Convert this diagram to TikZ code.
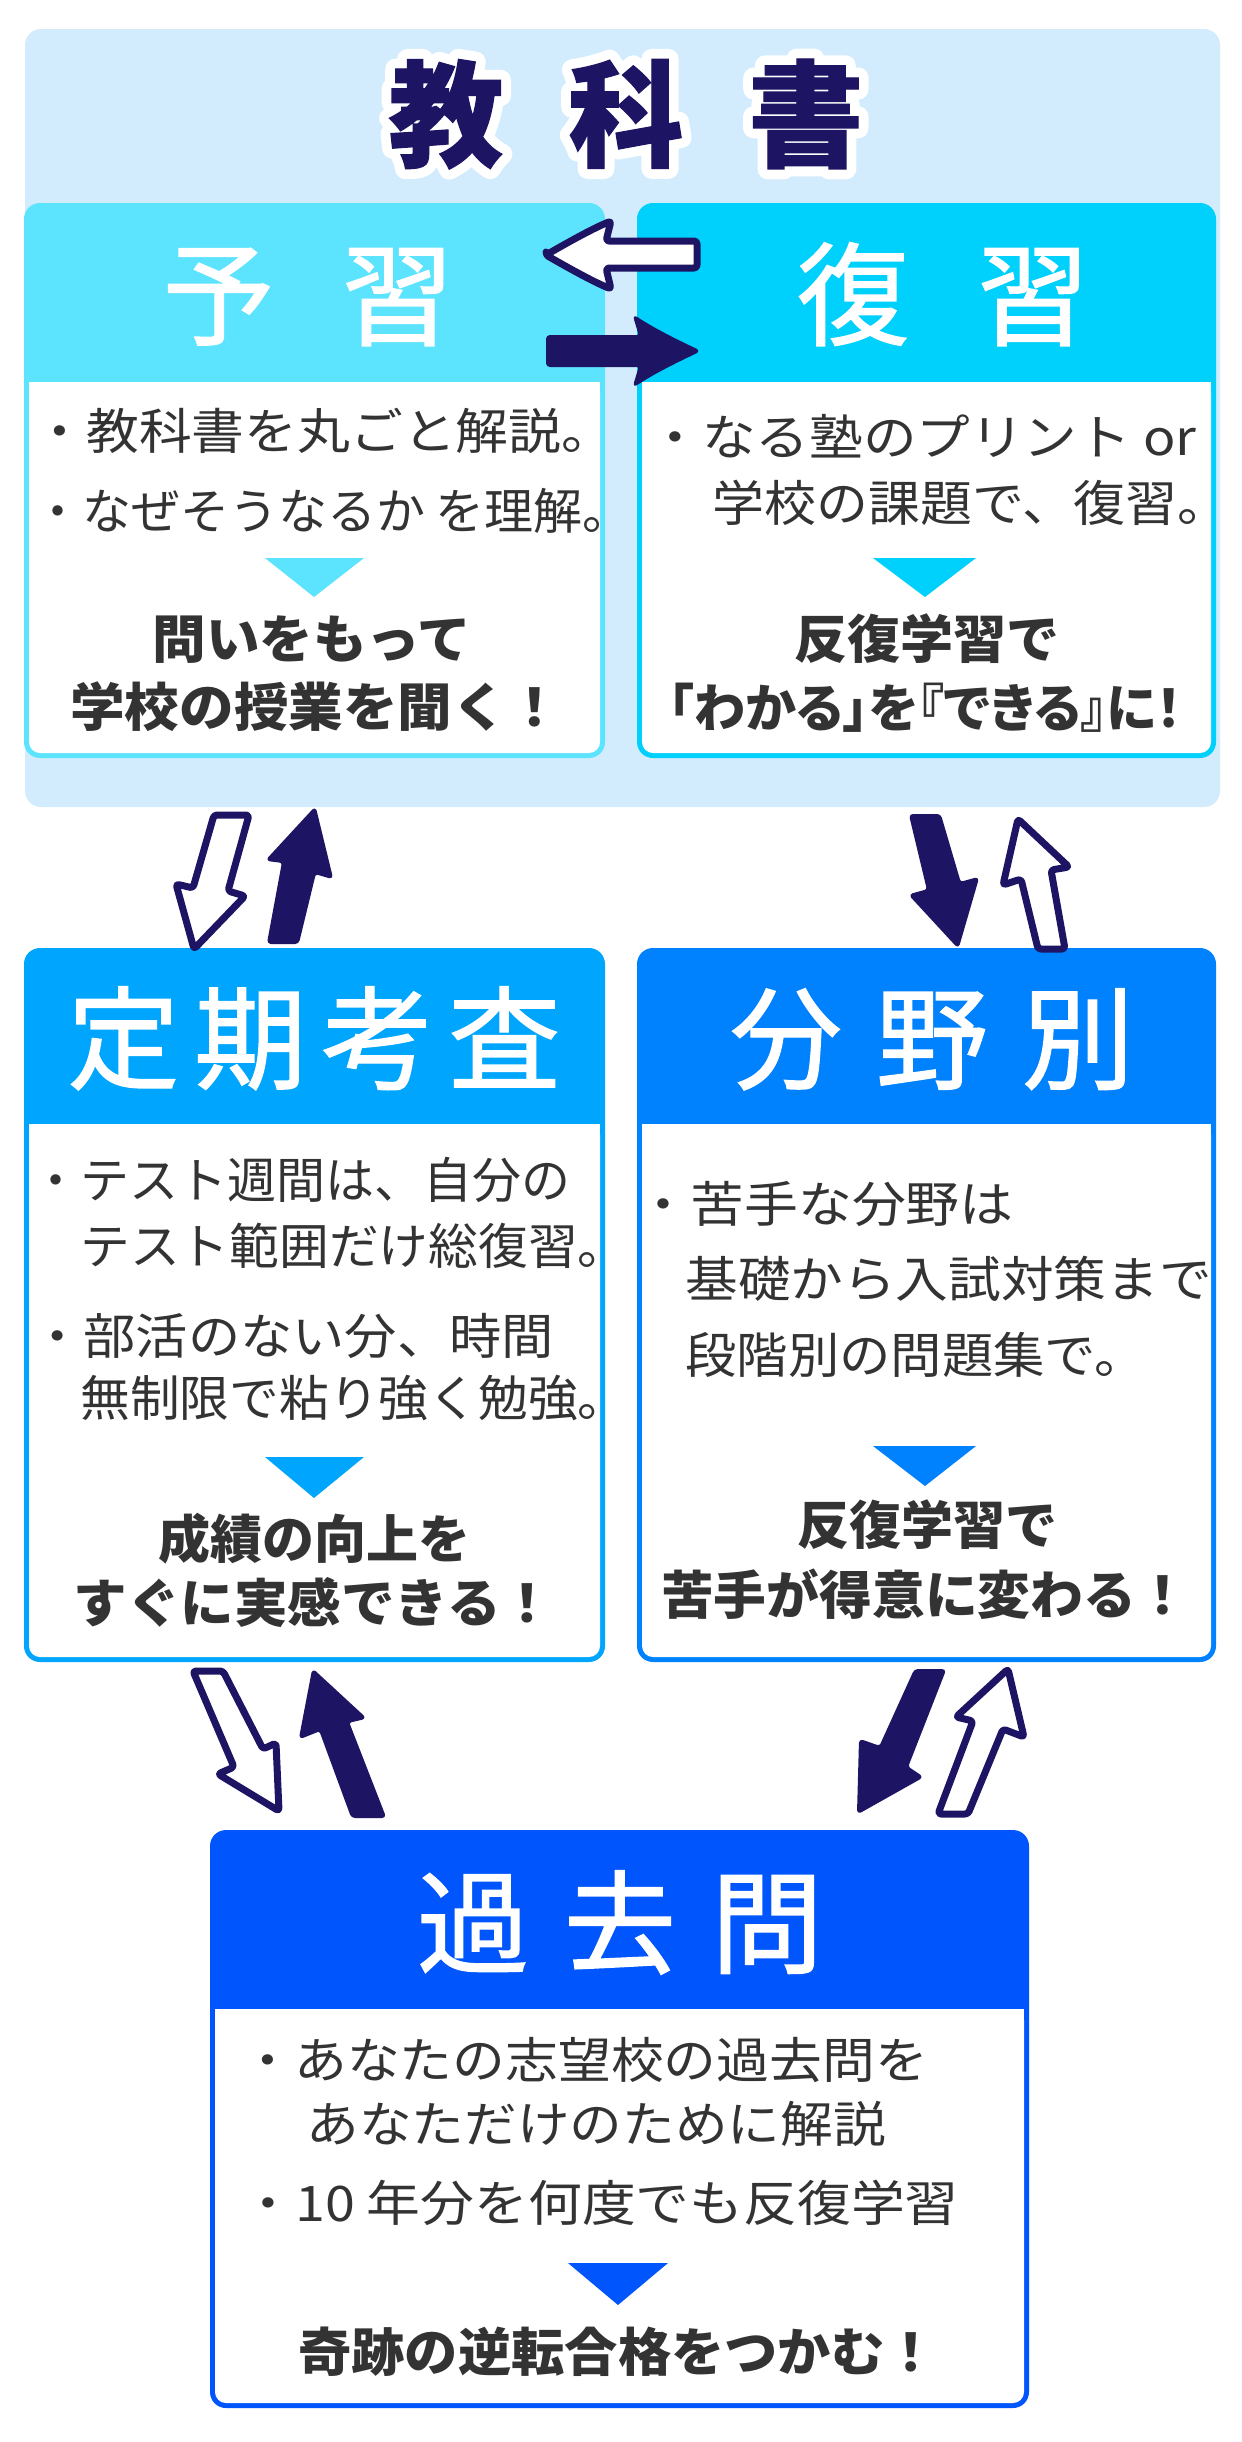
\documentclass[tikz,border=0pt]{standalone}
\usepackage{fontspec}
\usepackage{graphicx}
\newfontfamily\jp{Noto Sans CJK JP}
\newfontfamily\jppalt{Noto Sans CJK JP}[RawFeature=+palt]
\newfontfamily\jphead{Noto Sans CJK JP}[FakeBold=1.2]
\newfontfamily\jptitle{Noto Sans CJK JP}[FakeBold=1]
\newfontfamily\jpoutline{Noto Sans CJK JP}[FakeBold=18]
\usetikzlibrary{calc}
\definecolor{bgblue}{RGB}{210,236,253}
\definecolor{cA}{RGB}{92,227,254}
\definecolor{cB}{RGB}{0,208,252}
\definecolor{cC}{RGB}{0,166,253}
\definecolor{cD}{RGB}{0,129,253}
\definecolor{cE}{RGB}{0,85,253}
\definecolor{navy}{RGB}{30,20,100}
\definecolor{txt}{RGB}{51,51,51}
\tikzset{
  body/.style={anchor=west, inner sep=0pt, text=txt, font=\jp\fontsize{24.5}{30}\selectfont, text height=21.6pt, text depth=2.9pt},
  boldline/.style={anchor=center, inner sep=0pt, text=txt, font=\jp\bfseries\fontsize{26}{32}\selectfont, text height=22.9pt, text depth=3.1pt},
  boldpalt/.style={anchor=center, inner sep=0pt, text=txt, font=\jppalt\bfseries\fontsize{26}{32}\selectfont, text height=22.9pt, text depth=3.1pt},
  head/.style={anchor=center, inner sep=0pt, text=white, font=\jphead\fontsize{56}{60}\selectfont, text height=49.3pt, text depth=6.7pt},
  titletext/.style={anchor=center, inner sep=0pt, text height=50.6pt, text depth=6.9pt},
  hollow/.style={fill=white, draw=navy, line width=3.5pt, line join=round, rounded corners=1.5pt},
  solid/.style={fill=navy, draw=navy, line width=1pt, line join=round, rounded corners=1.5pt},
}
\newcommand\studybox[6]{%
  \fill[#6, rounded corners=8pt] (#1,#2) rectangle (#3,#4);
  \fill[white, rounded corners=5.5pt] (#1+5,#5) rectangle (#3-5,#4-5);
  \fill[white] (#1+5,#5) rectangle (#3-5,#5+30);
}
\newcommand\sx[2]{\scalebox{#1}[1]{#2}}
\begin{document}
\begin{tikzpicture}[x=0.5pt,y=-0.5pt]
\useasboundingbox (0,0) rectangle (1242,2442);
\fill[white] (0,0) rectangle (1242,2442);
% background of textbook area
\fill[bgblue, rounded corners=8pt] (25,29) rectangle (1220,807);
% title with white outline
\node[titletext, text=white, font=\jpoutline\bfseries\fontsize{57.5}{60}\selectfont] (titleout) at (626,114) {\special{pdf:literal direct 1 j 1 J}教\hspace{32.5pt}科\hspace{32.5pt}書};
\node[titletext, text=navy, font=\jptitle\bfseries\fontsize{57.5}{60}\selectfont] (title) at (626,114) {教\hspace{32.5pt}科\hspace{32.5pt}書};

% boxes
\studybox{24}{203}{605}{758}{382}{cA}
\studybox{637}{203}{1216}{758}{382}{cB}
\studybox{24}{948}{605}{1662}{1124}{cC}
\studybox{637}{948}{1216}{1662}{1124}{cD}
\studybox{210}{1830}{1029}{2408}{2009}{cE}

% headers
\node[head] (hA) at (308,294) {予\hspace{33.5pt}習};
\node[head] (hB) at (943,294) {復\hspace{34pt}習};
\node[head] (hC) at (314,1038) {定\hspace{7.5pt}期\hspace{7.5pt}考\hspace{7.5pt}査};
\node[head] (hD) at (932,1038) {分\hspace{17pt}野\hspace{17pt}別};
\node[head] (hE) at (620,1922) {過\hspace{17.5pt}去\hspace{17.5pt}問};

% yoshu body
\node[body] (a1) at (33,431) {\sx{1.078}{・教科書を丸ごと解説。}};
\node[body] (a2) at (33,511) {・なぜそうなるか\hspace{5pt}を理解。};
\fill[cA] (265,558) -- (364,558) -- (314,597) -- cycle;
\node[boldline] (a3) at (312,639) {\sx{1.03}{問いをもって}};
\node[boldline] (a4) at (316,707) {\sx{1.05}{学校の授業を聞く！}};

% fukushu body
\node[body] (b1) at (648,437) {\sx{1.095}{・なる塾のプリント or}};
\node[body] (b2) at (712,503) {\sx{1.06}{学校の課題で、復習。}};
\fill[cB] (873,558) -- (976,558) -- (925,597) -- cycle;
\node[boldline] (b3) at (927,639) {\sx{1.02}{反復学習で}};
\node[boldpalt] (b4) at (925,708) {\sx{0.985}{「わかる」を『できる』に！}};

% teiki body
\node[body] (c1) at (31,1180) {・テスト週間は、自分の};
\node[body] (c2) at (80,1246) {\sx{1.015}{テスト範囲だけ総復習。}};
\node[body] (c3) at (31,1336) {\sx{1.066}{・部活のない分、時間}};
\node[body] (c4) at (80,1398) {\sx{1.015}{無制限で粘り強く勉強。}};
\fill[cC] (265,1457) -- (364,1457) -- (314,1498) -- cycle;
\node[boldline] (c5) at (314,1539) {成績の向上を};
\node[boldline] (c6) at (314,1603) {\sx{1.03}{すぐに実感できる！}};

% bunya body
\node[body] (d1) at (636,1204) {\sx{1.1}{・苦手な分野は}};
\node[body] (d2) at (685,1279) {\sx{1.074}{基礎から入試対策まで}};
\node[body] (d3) at (685,1355) {\sx{1.048}{段階別の問題集で。}};
\fill[cD] (873,1446) -- (976,1446) -- (925,1486) -- cycle;
\node[boldline] (d4) at (927,1525) {反復学習で};
\node[boldline] (d5) at (925,1595) {\sx{1.015}{苦手が得意に変わる！}};

% kakomon body
\node[body] (e1) at (241,2060) {\sx{1.078}{・あなたの志望校の過去問を}};
\node[body] (e2) at (306,2124) {\sx{1.075}{あなただけのために解説}};
\node[body] (e3) at (241,2203) {\sx{1.098}{・10 年分を何度でも反復学習}};
\fill[cE] (568,2263) -- (668,2263) -- (618,2305) -- cycle;
\node[boldline] (e4) at (618,2352) {\sx{1.025}{奇跡の逆転合格をつかむ！}};

% arrows between yoshu and fukushu
\draw[hollow] (546,255) .. controls (572,240) and (594,228) .. (611,221) -- (606,241) -- (697,241) -- (697,268) -- (606,268) -- (611,289) .. controls (594,282) and (572,270) .. (546,255) -- cycle;
\draw[solid] (547,336) -- (640,336) -- (634,316) .. controls (655,330) and (680,342) .. (699,351) .. controls (680,360) and (655,372) .. (634,386) -- (640,366) -- (547,366) -- cycle;

% top-left arrows
\draw[hollow] (214,815) -- (249,815) -- (228,891) -- (245,896) -- (194,949) -- (176,884) -- (193,888) -- cycle;
\draw[solid] (315,808) -- (332,878) -- (315,873) -- (298,943) -- (268,943) -- (283,862) -- (267,860) -- cycle;
% top-right arrows
\draw[solid] (910,815) -- (940,815) -- (960,883) -- (978,878) -- (958,947) -- (910,895) -- (928,890) -- cycle;
\draw[hollow] (1018,819) -- (1069,867) -- (1051,870) -- (1065,949) -- (1038,949) -- (1021,879) -- (1003,885) -- cycle;
% bottom-left arrows
\draw[hollow] (193,1671) -- (223,1671) -- (263,1749) -- (276,1743) -- (279,1811) -- (218,1774) -- (234,1767) -- cycle;
\draw[solid] (313,1670) -- (365,1718) -- (348,1722) -- (385,1817) -- (352,1817) -- (320,1730) -- (300,1738) -- cycle;
% bottom-right arrows
\draw[solid] (915,1670) -- (945,1670) -- (907,1767) -- (922,1777) -- (858,1813) -- (860,1740) -- (880,1747) -- cycle;
\draw[hollow] (1008,1669) -- (1024,1737) -- (1003,1729) -- (968,1814) -- (938,1814) -- (973,1721) -- (956,1717) -- cycle;
\end{tikzpicture}
\end{document}
